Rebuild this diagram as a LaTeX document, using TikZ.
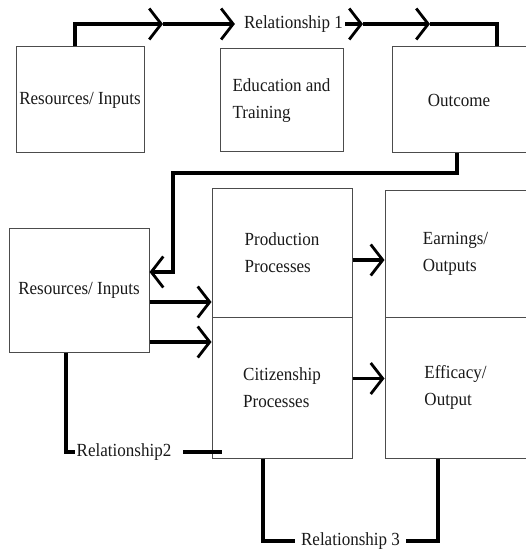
\documentclass[tikz,border=0pt]{standalone}
\usepackage{fontspec}
\setmainfont{Liberation Serif}[FakeStretch = 0.92]
\usetikzlibrary{arrows.meta}
\tikzset{
	box/.style = {draw = black!70, line width = 1pt, align = left, inner sep = 0pt},
	link/.style = {line width = 3.4pt},
	tip/.style = {link, -{Straight Barb[length = 12pt, width = 31pt, line width = 2.8pt]}},
	rel/.style = {inner sep = 2pt}
}

\begin{document}
\begin{tikzpicture}[x = 1pt, y = -1pt, font = \fontsize{18.5}{27}\selectfont, text = black!90]
		\useasboundingbox (0,0) rectangle (526,553);
		\node [box, minimum width = 128pt, minimum height = 106pt] (res1) at (80, 100) {Resources/ Inputs};
		\node [box, minimum width = 123pt, minimum height = 103pt] (edu) at (281.5, 100.5) {Education and\\Training};
		\node [box, minimum width = 134pt, minimum height = 106pt] (outc) at (459, 100) {Outcome};
		\node [box, minimum width = 140pt, minimum height = 124pt] (res2) at (79, 290) {Resources/ Inputs};
		\node [box, minimum width = 140pt, minimum height = 128pt] (prod) at (282, 253) {Production\\Processes};
		\node [box, minimum width = 140pt, minimum height = 141pt] (cit) at (282, 387.5) {Citizenship\\Processes};
		\node [box, minimum width = 141pt, minimum height = 126pt] (earn) at (455.5, 254) {Earnings/\\Outputs};
		\node [box, minimum width = 141pt, minimum height = 141pt] (eff) at (455.5, 387.5) {Efficacy/\\Output};
		\node [rel] (rel1) at (293.5, 24) {Relationship 1};
		\node [rel] (rel2) at (124, 452) {Relationship2};
		\node [rel, inner xsep = 6pt] (rel3) at (350.5, 541) {Relationship 3};
		\coordinate (a1) at (163, 24);
		\coordinate (a2) at (363, 24);
		\coordinate (a3) at (430, 24);
		\coordinate (bend) at (173, 173);
		\draw [tip] ([xshift = -5pt]res1.north) |- (a1);
		\draw [tip] (a1) -- ([xshift = -7pt]rel1.west);
		\draw [tip] (rel1.east) -- (a2);
		\draw [tip] (a2) -- (a3);
		\draw [link] (a3) -| ([xshift = 38pt]outc.north);
		\draw [tip] ([xshift = -2pt]outc.south) |- (bend) |- ([yshift = 18pt]res2.east);
		\draw [tip] ([yshift = -12pt]res2.east) -- ([yshift = -12pt]res2.east -| prod.west);
		\draw [tip] ([yshift = -52pt]res2.east) -- ([yshift = -52pt]res2.east -| cit.west);
		\draw [tip] ([yshift = -7pt]prod.east) -- ([yshift = -7pt]prod.east -| earn.west);
		\draw [tip] ([yshift = 9pt]cit.east) -- ([yshift = 9pt]cit.east -| eff.west);
		\draw [link] ([xshift = -13pt]res2.south) |- (rel2.west);
		\draw [link] ([xshift = 10pt]rel2.east) -- ([xshift = 10pt]rel2.east -| cit.west);
		\draw [link] ([xshift = -19pt]cit.south) |- (rel3.west);
		\draw [link] (rel3.east) -| ([xshift = -17.5pt]eff.south);
	\end{tikzpicture}
\end{document}
